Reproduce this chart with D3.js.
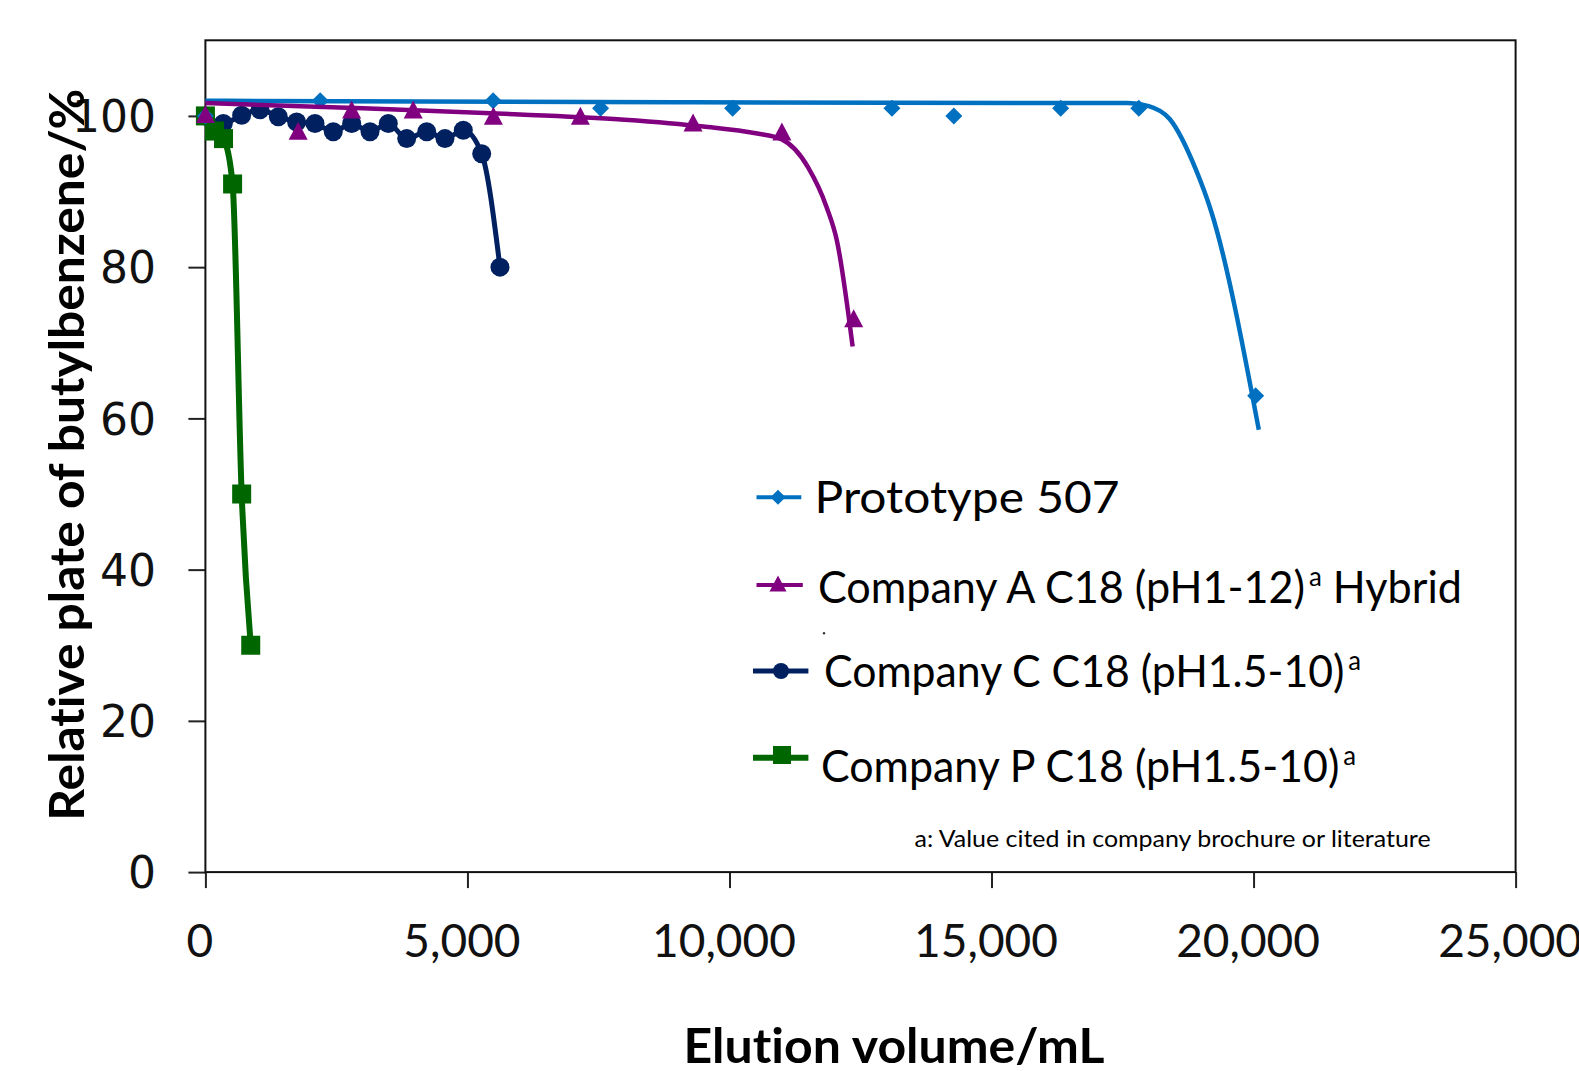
<!DOCTYPE html>
<html>
<head>
<meta charset="utf-8">
<script src="https://cdn.jsdelivr.net/npm/d3@7"></script>
<style>
  body { margin: 0; background: #fff; }
  text { font-family: Lato, "Open Sans", sans-serif; font-variant-ligatures: none; }
</style>
</head>
<body>
<div id="chart"></div>
<script>
// Chart data
var xTicks = [0, 5000, 10000, 15000, 20000, 25000];
var yTicks = [0, 20, 40, 60, 80, 100];

// Prototype 507 markers and its drawn trend curve
var protoX = [0, 2190, 5490, 7540, 10060, 13100, 14280, 16320, 17810, 20040];
var protoY = [100, 102, 102, 101, 101, 101, 100, 101, 101, 63];
var protoCurveX = [0, 9000, 17600, 18000, 18400, 18900, 19200, 20100];
var protoCurveY = [102, 101.8, 101.7, 101.3, 99.6, 92.9, 87.2, 58.5];

// Company A markers and its drawn trend curve
var compAX = [0, 1770, 2790, 3965, 5495, 7155, 9305, 11000, 12370];
var compAY = [100, 97.8, 100.6, 100.6, 99.8, 99.8, 98.9, 97.7, 73];
var compACurveX = [0, 3000, 6000, 8000, 9500, 10500, 11000, 11500, 11850, 12050, 12350];
var compACurveY = [101.7, 101.0, 100.2, 99.5, 98.6, 97.7, 96.9, 93.2, 88, 83.5, 69.5];

// Company C
var compCX = [0, 342, 692, 1042, 1391, 1741, 2091, 2440, 2791, 3141, 3490, 3841, 4223, 4571, 4921, 5272, 5621];
var compCY = [100, 99, 100.1, 100.8, 99.9, 99.2, 99, 97.9, 99, 97.9, 99, 97, 97.9, 97, 98.1, 95, 80];

// Company P
var compPX = [0, 173, 346, 519, 692, 865];
var compPY = [100, 98, 97, 91, 50, 30];

var svgWidth = 1579;
var svgHeight = 1071;
var margin = { top: 40.3, right: 63.4, bottom: 198.9, left: 205.4 };

var svg = d3.select("#chart")
  .append("svg")
  .attr("width", svgWidth)
  .attr("height", svgHeight);

var x = d3.scaleLinear().domain([0, 25000]).range([margin.left, svgWidth - margin.right]);
var y = d3.scaleLinear().domain([0, 110]).range([svgHeight - margin.bottom, margin.top]);

var zip = function(xs, ys) { return xs.map(function(v, i) { return [v, ys[i]]; }); };

// x axis
var xAxis = svg.append("g")
  .attr("transform", `translate(0, ${y(0)})`)
  .call(d3.axisBottom(x).tickValues(xTicks).tickSize(16).tickFormat(d3.format(",")));
xAxis.select(".domain").remove();
xAxis.selectAll("line").attr("stroke", "#222").attr("stroke-width", 2);
xAxis.selectAll("text")
  .attr("y", 84.6).attr("dy", 0).attr("dx", -6)
  .attr("fill", "#111")
  .style("font-family", "Lato, sans-serif")
  .style("font-size", "46px");

// y axis
var yAxis = svg.append("g")
  .attr("transform", `translate(${x(0)}, 0)`)
  .call(d3.axisLeft(y).tickValues(yTicks).tickSize(17));
yAxis.select(".domain").remove();
yAxis.selectAll("line").attr("stroke", "#222").attr("stroke-width", 2);
yAxis.selectAll("text")
  .attr("x", -49.4).attr("dy", "0.36em")
  .attr("fill", "#111")
  .style("font-family", "'DejaVu Sans', sans-serif")
  .style("font-size", "44px");

// plot frame
svg.append("rect")
  .attr("x", x(0)).attr("y", y(110))
  .attr("width", x(25000) - x(0)).attr("height", y(0) - y(110))
  .attr("fill", "none").attr("stroke", "#111").attr("stroke-width", 2);

// axis titles
svg.append("text")
  .attr("x", 683.4).attr("y", 1063)
  .attr("textLength", 421).attr("lengthAdjust", "spacingAndGlyphs")
  .style("font-weight", "bold").style("font-size", "47px")
  .text("Elution volume/mL");

svg.append("text")
  .attr("transform", "translate(84, 820.7) rotate(-90)")
  .attr("textLength", 732).attr("lengthAdjust", "spacingAndGlyphs")
  .style("font-weight", "bold").style("font-size", "47px")
  .text("Relative plate of butylbenzene/%");

var line = d3.line()
  .x(function(d) { return x(d[0]); })
  .y(function(d) { return y(d[1]); })
  .curve(d3.curveMonotoneX);

// marker shapes
function diamond(g, cx, cy, r, col) {
  g.append("path")
    .attr("d", `M${cx},${cy - r}L${cx + r},${cy}L${cx},${cy + r}L${cx - r},${cy}Z`)
    .attr("fill", col);
}
function triangle(g, cx, cy, w, h, col) {
  g.append("path")
    .attr("d", `M${cx},${cy - h * 0.6}L${cx + w / 2},${cy + h * 0.4}L${cx - w / 2},${cy + h * 0.4}Z`)
    .attr("fill", col);
}
function square(g, cx, cy, s, col) {
  g.append("rect").attr("x", cx - s / 2).attr("y", cy - s / 2)
    .attr("width", s).attr("height", s).attr("fill", col);
}
function dot(g, cx, cy, r, col) {
  g.append("circle").attr("cx", cx).attr("cy", cy).attr("r", r).attr("fill", col);
}

var blue = "#0070C0", purple = "#800080", navy = "#002060", green = "#006600";

// Company C
var gC = svg.append("g");
gC.append("path").attr("d", line(zip(compCX, compCY)))
  .attr("fill", "none").attr("stroke", navy).attr("stroke-width", 5);
zip(compCX, compCY).forEach(function(d) { dot(gC, x(d[0]), y(d[1]), 9.5, navy); });

// Company P
var gP = svg.append("g");
gP.append("path").attr("d", line(zip(compPX, compPY)))
  .attr("fill", "none").attr("stroke", green).attr("stroke-width", 6);
zip(compPX, compPY).forEach(function(d) { square(gP, x(d[0]), y(d[1]), 19, green); });

// Prototype 507
var gB = svg.append("g");
gB.append("path").attr("d", line(zip(protoCurveX, protoCurveY)))
  .attr("fill", "none").attr("stroke", blue).attr("stroke-width", 4.5);
zip(protoX, protoY).forEach(function(d) { diamond(gB, x(d[0]), y(d[1]), 8.5, blue); });

// Company A
var gA = svg.append("g");
gA.append("path").attr("d", line(zip(compACurveX, compACurveY)))
  .attr("fill", "none").attr("stroke", purple).attr("stroke-width", 4.5);
zip(compAX, compAY).forEach(function(d) { triangle(gA, x(d[0]), y(d[1]), 19, 18, purple); });

// legend
var legend = svg.append("g");

legend.append("line").attr("x1", 756.5).attr("x2", 801.3).attr("y1", 497.3).attr("y2", 497.3)
  .attr("stroke", blue).attr("stroke-width", 4);
diamond(legend, 778, 497.3, 7.5, blue);
legend.append("text").attr("x", 814.6).attr("y", 513.3)
  .attr("textLength", 305).attr("lengthAdjust", "spacingAndGlyphs")
  .style("font-size", "45px").text("Prototype 507");

legend.append("line").attr("x1", 756.5).attr("x2", 802.8).attr("y1", 585).attr("y2", 585)
  .attr("stroke", purple).attr("stroke-width", 4);
triangle(legend, 778, 585, 17, 16, purple);
var tA = legend.append("text").attr("x", 817.9).attr("y", 603.3)
  .attr("textLength", 644).attr("lengthAdjust", "spacingAndGlyphs")
  .style("font-size", "45px");
tA.append("tspan").text("Company A C18 (pH1-12)");
tA.append("tspan").attr("dy", -17).attr("dx", 4).style("font-size", "27px").text("a");
tA.append("tspan").attr("dy", 17).text(" Hybrid");

dot(legend, 824, 633.3, 1.2, "#333");

legend.append("line").attr("x1", 753).attr("x2", 808.4).attr("y1", 671).attr("y2", 671)
  .attr("stroke", navy).attr("stroke-width", 5);
dot(legend, 781, 671, 8, navy);
var tC = legend.append("text").attr("x", 824).attr("y", 686.7)
  .attr("textLength", 537).attr("lengthAdjust", "spacingAndGlyphs")
  .style("font-size", "45px");
tC.append("tspan").text("Company C C18 (pH1.5-10)");
tC.append("tspan").attr("dy", -17).attr("dx", 4).style("font-size", "27px").text("a");

legend.append("line").attr("x1", 753).attr("x2", 808.4).attr("y1", 757.7).attr("y2", 757.7)
  .attr("stroke", green).attr("stroke-width", 6);
square(legend, 782, 755, 18, green);
var tP = legend.append("text").attr("x", 821).attr("y", 781.7)
  .attr("textLength", 535).attr("lengthAdjust", "spacingAndGlyphs")
  .style("font-size", "45px");
tP.append("tspan").text("Company P C18 (pH1.5-10)");
tP.append("tspan").attr("dy", -17).attr("dx", 4).style("font-size", "27px").text("a");

legend.append("text").attr("x", 914.6).attr("y", 846.7)
  .attr("textLength", 516).attr("lengthAdjust", "spacingAndGlyphs")
  .style("font-size", "23px").text("a: Value cited in company brochure or literature");
</script>
</body>
</html>
